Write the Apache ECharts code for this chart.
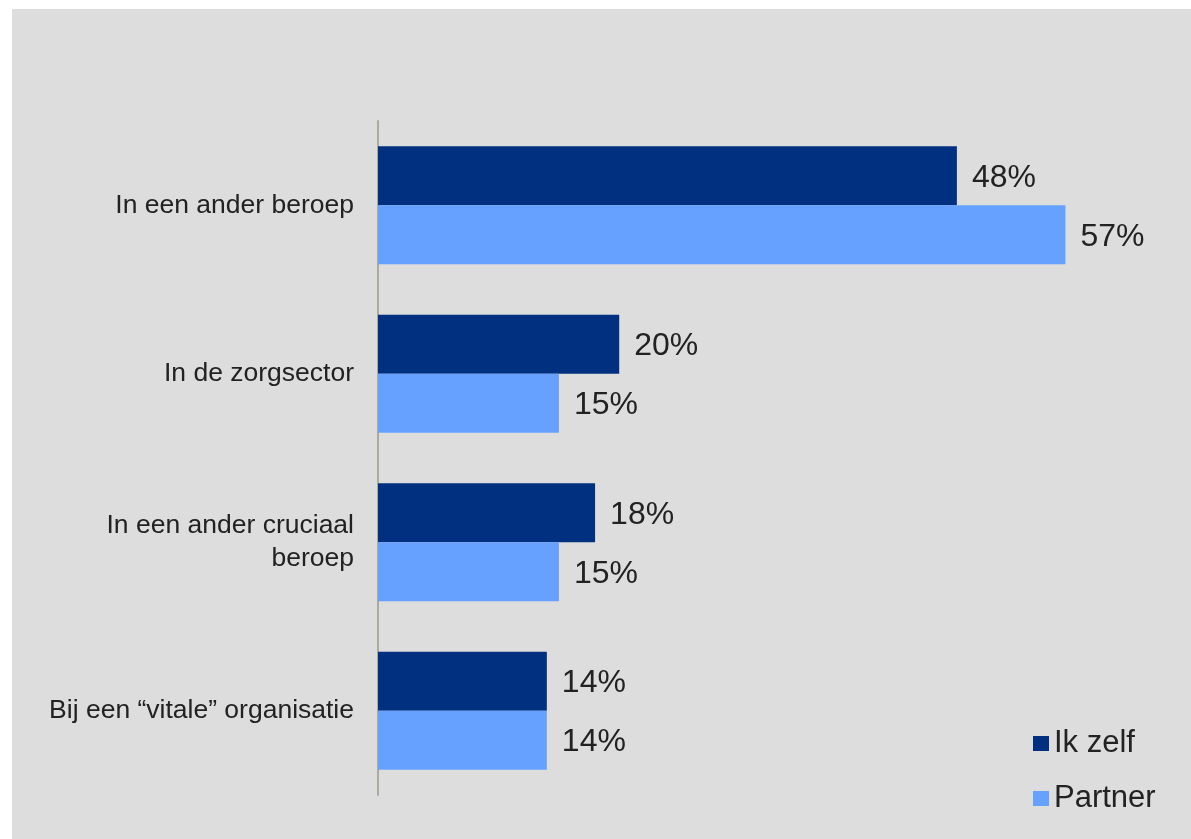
<!DOCTYPE html>
<html>
<head>
<meta charset="utf-8">
<script src="https://cdn.jsdelivr.net/npm/echarts@6/dist/echarts.min.js"></script>
<style>
  html, body { margin: 0; padding: 0; background: #ffffff; width: 1191px; height: 839px; overflow: hidden; }
  #chart { position: absolute; left: 12px; top: 9px; width: 1179px; height: 830px; background: #DDDDDD; }
</style>
</head>
<body>
<div id="chart"></div>
<script>
const categories = ['In een ander beroep', 'In de zorgsector', 'In een ander cruciaal\nberoep', 'Bij een \u201cvitale\u201d organisatie'];
const seriesNames = ['Ik zelf', 'Partner'];
const ikZelf = [48, 20, 18, 14];
const partner = [57, 15, 15, 14];

const font = "Arial, 'Liberation Sans', sans-serif";
const chart = echarts.init(document.getElementById('chart'), null, { renderer: 'canvas' });
const labelCfg = {
  show: true, position: 'right', distance: 15, offset: [0, 2],
  formatter: '{c}%', fontSize: 32, color: '#222222', fontFamily: font
};
chart.setOption({
  backgroundColor: '#DDDDDD',
  animation: false,
  grid: { left: 366, right: 89.4, top: 112, bottom: 44, containLabel: false },
  xAxis: {
    type: 'value', min: 0, max: 60, show: false
  },
  yAxis: {
    type: 'category', data: categories, inverse: true,
    axisLine: { show: true, lineStyle: { color: '#ABAB9D', width: 2 } },
    axisTick: { show: false },
    axisLabel: { fontSize: 26.5, lineHeight: 33, color: '#222222', fontFamily: font, margin: 24, align: 'right' }
  },
  legend: {
    orient: 'vertical', left: 1016, top: 714,
    icon: 'rect', itemWidth: 16, itemHeight: 15, itemGap: 24,
    textStyle: { fontSize: 31, lineHeight: 31, color: '#222222', fontFamily: font },
    data: seriesNames
  },
  series: [
    { name: seriesNames[0], type: 'bar', data: ikZelf, barWidth: 59, barGap: '0%',
      itemStyle: { color: '#00307F' }, label: labelCfg },
    { name: seriesNames[1], type: 'bar', data: partner, barWidth: 59, barGap: '0%',
      itemStyle: { color: '#66A1FF' }, label: labelCfg }
  ]
});
</script>
</body>
</html>
